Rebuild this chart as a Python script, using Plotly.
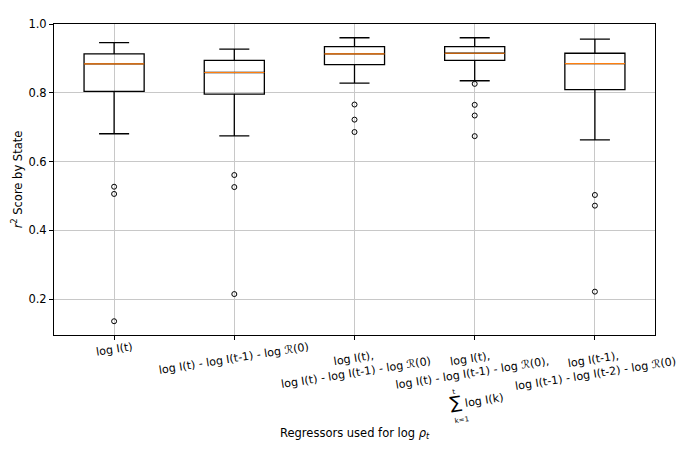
import plotly.graph_objects as go

# regressor sets (one box per set)
positions = [1, 2, 3, 4, 5]
labels = [
    "log I(t)",
    "log I(t) - log I(t-1) - log \u211b(0)",
    "log I(t),<br>log I(t) - log I(t-1) - log \u211b(0)",
    "log I(t),<br>log I(t) - log I(t-1) - log \u211b(0),<br>"
    "<span style='font-size:7px'>t</span>\u00a0\u00a0\u00a0\u00a0\u00a0\u00a0\u00a0\u00a0\u00a0\u00a0\u00a0\u00a0<br>"
    "<span style='font-size:17px'>\u2211</span> log I(k)<br>"
    "<span style='font-size:7px'>k=1</span>\u00a0\u00a0\u00a0\u00a0\u00a0\u00a0\u00a0\u00a0\u00a0\u00a0",
    "log I(t-1),<br>log I(t-1) - log I(t-2) - log \u211b(0)",
]

# box statistics
upper = [0.946, 0.927, 0.960, 0.960, 0.956]
q3 = [0.913, 0.894, 0.934, 0.934, 0.915]
median = [0.884, 0.859, 0.913, 0.915, 0.885]
q1 = [0.804, 0.796, 0.882, 0.894, 0.809]
lower = [0.681, 0.675, 0.828, 0.835, 0.663]
outliers = [
    [0.527, 0.506, 0.136],
    [0.561, 0.526, 0.215],
    [0.766, 0.722, 0.686],
    [0.826, 0.765, 0.734, 0.674],
    [0.503, 0.472, 0.222],
]

FS = 11.5
LFS = 11.1

fig = go.Figure()

fig.add_trace(go.Box(
    x=positions, q1=q1, median=median, q3=q3,
    lowerfence=lower, upperfence=upper,
    width=0.5, whiskerwidth=0.5,
    line=dict(color="black", width=1.3),
    fillcolor="rgba(0,0,0,0)",
    boxpoints=False, showlegend=False, hoverinfo="skip",
))

# orange median lines drawn as flat boxes
fig.add_trace(go.Box(
    x=positions, q1=median, median=median, q3=median,
    lowerfence=median, upperfence=median,
    width=0.5, whiskerwidth=0,
    line=dict(color="#ff7f0e", width=1.2),
    fillcolor="rgba(0,0,0,0)",
    boxpoints=False, showlegend=False, hoverinfo="skip",
))

ox = []
oy = []
for p, vals in zip(positions, outliers):
    for v in vals:
        ox.append(p)
        oy.append(v)
fig.add_trace(go.Scatter(
    x=ox, y=oy, mode="markers",
    marker=dict(symbol="circle-open", size=5, color="black", line=dict(width=1)),
    showlegend=False, hoverinfo="skip",
))

annotations = []
for p, lab in zip(positions, labels):
    annotations.append(dict(
        x=p, y=0, xref="x", yref="paper", text=lab, showarrow=False,
        textangle=-9, xanchor="center", yanchor="top", align="center",
        yshift=-3, font=dict(size=LFS, color="black"),
    ))
annotations.append(dict(
    x=0.5, y=0, xref="paper", yref="paper",
    text="Regressors used for log <i>\u03c1<sub>t</sub></i>",
    showarrow=False, xanchor="center", yanchor="middle", yshift=-98,
    font=dict(size=FS, color="black"),
))

# page body has an 8px margin, so margins are shifted by that much
fig.update_layout(
    width=685, height=456,
    margin=dict(l=39, r=38, t=9, b=129),
    paper_bgcolor="white", plot_bgcolor="white",
    font=dict(family="DejaVu Sans", size=FS, color="black"),
    boxmode="overlay",
    annotations=annotations,
)
fig.update_xaxes(
    range=[0.5, 5.5], tickvals=positions, showticklabels=False,
    ticks="outside", ticklen=4, tickcolor="black",
    showgrid=True, gridcolor="#c8c8c8", gridwidth=1,
    showline=True, linecolor="black", linewidth=1, mirror=True,
    zeroline=False,
)
fig.update_yaxes(
    range=[0.096, 1.0], tickvals=[0.2, 0.4, 0.6, 0.8, 1.0], tickformat=".1f",
    ticks="outside", ticklen=4, tickcolor="black",
    showgrid=True, gridcolor="#c8c8c8", gridwidth=1,
    showline=True, linecolor="black", linewidth=1, mirror=True,
    zeroline=False,
    title=dict(text="<i>r</i><sup>2</sup> Score by State", standoff=3,
               font=dict(size=FS)),
)

fig.write_html("out.html")
